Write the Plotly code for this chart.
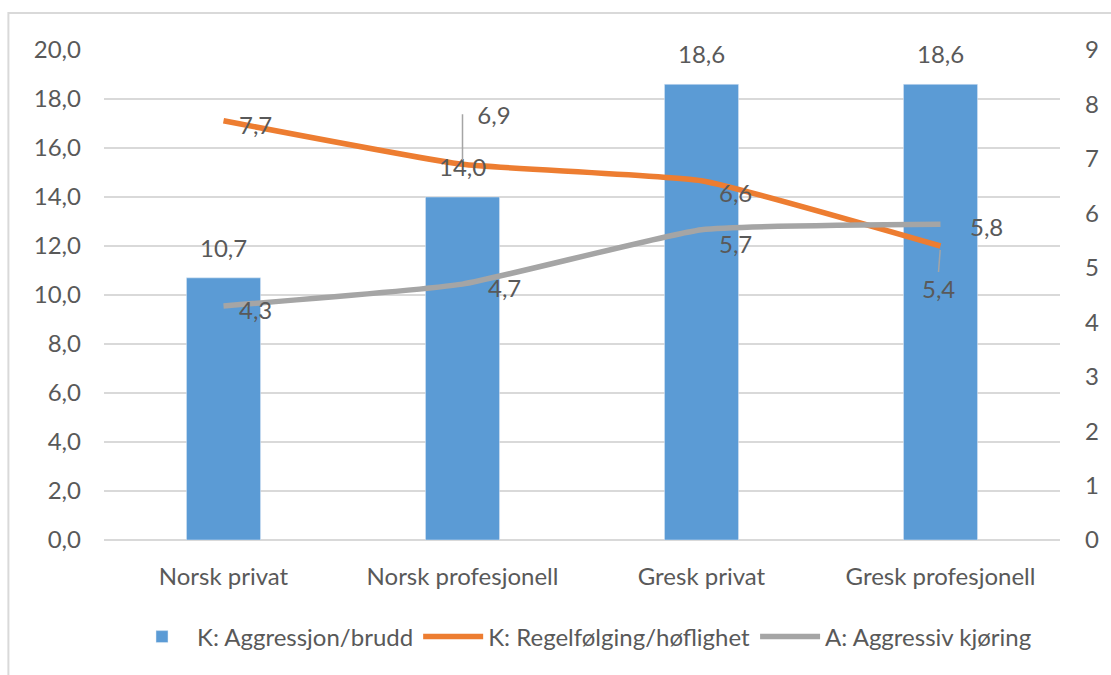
import plotly.graph_objects as go

categories = ["Norsk privat", "Norsk profesjonell", "Gresk privat", "Gresk profesjonell"]
aggresjon = [10.7, 14.0, 18.6, 18.6]
regelfolging = [7.7, 6.9, 6.6, 5.4]
aggressiv = [4.3, 4.7, 5.7, 5.8]
names = ["K: Aggressjon/brudd", "K: Regelfølging/høflighet", "A: Aggressiv kjøring"]

BLUE = "#5B9BD5"
ORANGE = "#ED7D31"
GRAY = "#A5A5A5"
TXT = "#595959"
FONT = "Lato"
FS = 24

def fmt(v):
    return f"{v:.1f}".replace(".", ",")

fig = go.Figure()
fig.add_trace(go.Bar(x=categories, y=aggresjon, name=names[0], marker_color=BLUE,
                     yaxis="y"))
fig.add_trace(go.Scatter(x=categories, y=regelfolging, name=names[1], mode="lines",
                         line=dict(color=ORANGE, width=5.5, shape="spline", smoothing=0.4),
                         yaxis="y2"))
fig.add_trace(go.Scatter(x=categories, y=aggressiv, name=names[2], mode="lines",
                         line=dict(color=GRAY, width=5.5, shape="spline", smoothing=0.4),
                         yaxis="y2"))

ann = []
# bar labels
for c, v in zip(categories, aggresjon):
    ann.append(dict(x=c, y=v, xref="x", yref="y", text=fmt(v), showarrow=False,
                    yanchor="bottom", yshift=14, font=dict(size=FS, color=TXT, family=FONT)))
# orange labels: (xshift, yshift, leader)
orange_pos = [(32, -4, None), (None, None, (0, -50)), (34, -12, None), (None, None, (-2, 26))]
for c, v, p in zip(categories, regelfolging, orange_pos):
    if p[2] is None:
        ann.append(dict(x=c, y=v, xref="x", yref="y2", text=fmt(v), showarrow=False,
                        xshift=p[0], yshift=p[1], font=dict(size=FS, color=TXT, family=FONT)))
    elif p[2][1] < 0:
        ann.append(dict(x=c, y=v, xref="x", yref="y2", text="  " + fmt(v), showarrow=True,
                        arrowhead=0, arrowwidth=1.5, arrowcolor=GRAY, ax=p[2][0], ay=p[2][1],
                        xanchor="left", yanchor="middle", standoff=4,
                        font=dict(size=FS, color=TXT, family=FONT)))
    else:
        ann.append(dict(x=c, y=v, xref="x", yref="y2", text=fmt(v), showarrow=True,
                        arrowhead=0, arrowwidth=1.5, arrowcolor=GRAY, ax=p[2][0], ay=p[2][1],
                        xanchor="center", yanchor="top", standoff=4,
                        font=dict(size=FS, color=TXT, family=FONT)))
gray_shift = [(32, -4), (42, -3), (34, -14), (46, -2)]
for c, v, s in zip(categories, aggressiv, gray_shift):
    ann.append(dict(x=c, y=v, xref="x", yref="y2", text=fmt(v), showarrow=False,
                    xshift=s[0], yshift=s[1], font=dict(size=FS, color=TXT, family=FONT)))

fig.update_layout(
    width=1111, height=675,
    margin=dict(l=104, r=47, t=50, b=135),
    paper_bgcolor="white", plot_bgcolor="white",
    separators=",.",
    font=dict(family=FONT, size=FS, color=TXT),
    bargap=0.69,
    showlegend=True,
    legend=dict(orientation="h", x=0.5, xanchor="center", y=-0.198, yanchor="middle",
                font=dict(size=FS, color=TXT), itemwidth=60, tracegroupgap=0,
                traceorder="normal"),
    xaxis=dict(showgrid=False, showline=False, ticks="", ticklabelstandoff=20,
               tickfont=dict(size=FS, color=TXT)),
    yaxis=dict(range=[0, 20], dtick=2, tickformat=".1f", showgrid=True,
               gridcolor="#D9D9D9", gridwidth=1.5, zeroline=True, zerolinecolor="#D9D9D9",
               zerolinewidth=2, showline=False, ticks="", ticklabelstandoff=22,
               tickfont=dict(size=FS, color=TXT)),
    yaxis2=dict(range=[0, 9], dtick=1, overlaying="y", side="right", showgrid=False,
                zeroline=False, showline=False, ticks="", ticklabelstandoff=24,
                tickfont=dict(size=FS, color=TXT)),
    annotations=ann,
    shapes=[dict(type="rect", xref="paper", yref="paper",
                 x0=(8 - 104) / 960, x1=(1120 - 104) / 960,
                 y0=(540 - 690) / 490, y1=1 + (50 - 13) / 490,
                 line=dict(color="#D9D9D9", width=2), layer="below")],
)

fig.write_html("out.html")
